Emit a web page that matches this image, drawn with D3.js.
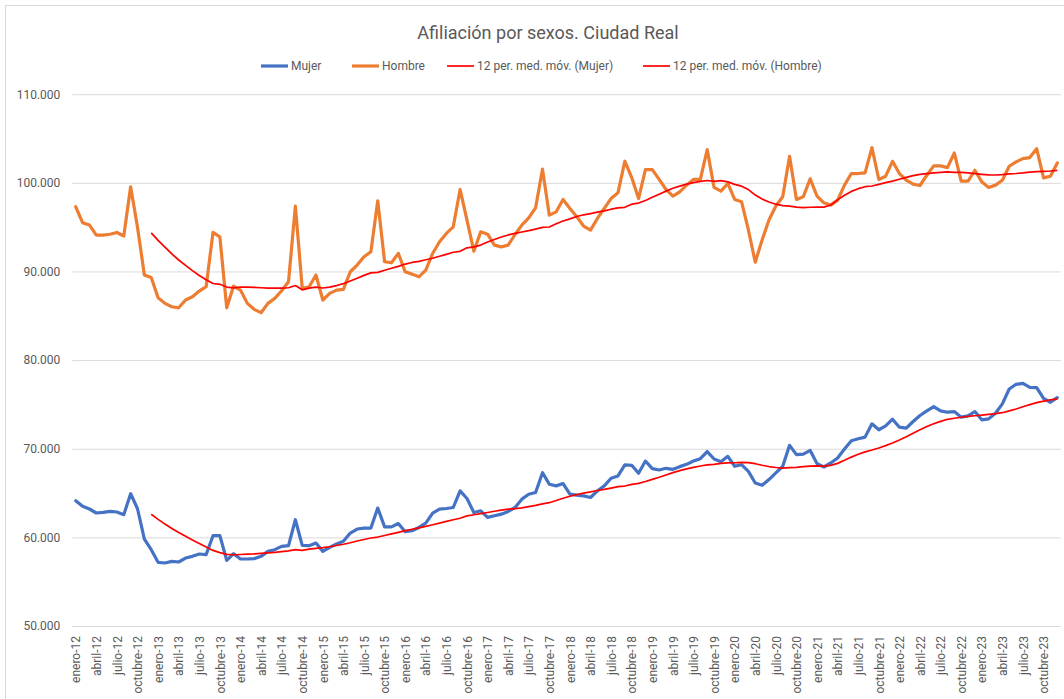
<!DOCTYPE html>
<html>
<head>
<meta charset="utf-8">
<script src="https://cdn.jsdelivr.net/npm/d3@7"></script>
<style>
  body { margin: 0; background: #fff; }
  text { font-family: Roboto, "Noto Sans", sans-serif; fill: #595959; }
</style>
</head>
<body>
<svg id="chart" width="1064" height="699"></svg>
<script>
// month names and years used for the category axis
var meses = ["enero", "febrero", "marzo", "abril", "mayo", "junio", "julio",
  "agosto", "septiembre", "octubre", "noviembre", "diciembre"];
var anios = ["12", "13", "14", "15", "16", "17", "18", "19", "20", "21", "22", "23"];

// afiliados, one value per month (enero-12 .. diciembre-23)
var mujer = [
  64140, 63500, 63200, 62750, 62820, 62930, 62860, 62560, 64930, 63230, 59810, 58610,
  57180, 57110, 57290, 57220, 57670, 57860, 58120, 58050, 60190, 60190, 57410, 58160,
  57560, 57560, 57600, 57860, 58420, 58610, 58990, 59060, 61990, 59100, 59060, 59360,
  58420, 58870, 59250, 59550, 60490, 60940, 61050, 61050, 63310, 61180, 61180, 61560,
  60640, 60750, 61120, 61610, 62740, 63180, 63260, 63370, 65240, 64380, 62810, 63000,
  62250, 62440, 62620, 62920, 63370, 64310, 64870, 65060, 67300, 65990, 65810, 66070,
  64870, 64760, 64680, 64500, 65240, 65810, 66670, 66930, 68170, 68130, 67230, 68610,
  67750, 67600, 67790, 67680, 67980, 68240, 68610, 68880, 69680, 68840, 68540, 69140,
  68020, 68200, 67450, 66140, 65880, 66520, 67270, 68020, 70380, 69330, 69400, 69810,
  68320, 67940, 68390, 68950, 69960, 70900, 71120, 71310, 72810, 72140, 72580, 73330,
  72430, 72320, 73070, 73750, 74270, 74760, 74270, 74120, 74190, 73560, 73710, 74190,
  73260, 73370, 74010, 75060, 76740, 77270, 77380, 76930, 76890, 75690, 75240, 75770
];

var hombre = [
  97300, 95500, 95230, 94100, 94100, 94200, 94400, 94000, 99550, 95000, 89600, 89330,
  87030, 86400, 86020, 85900, 86780, 87150, 87790, 88280, 94400, 93900, 85900, 88350,
  87900, 86400, 85730, 85350, 86400, 86960, 87820, 88840, 97370, 88100, 88280, 89600,
  86780, 87530, 87900, 87980, 89970, 90720, 91660, 92220, 97970, 91100, 90980, 92040,
  89960, 89700, 89400, 90150, 92030, 93350, 94290, 95040, 99250, 95790, 92290, 94470,
  94210, 92970, 92780, 92970, 94170, 95230, 96050, 97180, 101540, 96350, 96730, 98120,
  97110, 96170, 95110, 94660, 95980, 97110, 98230, 98870, 102440, 100600, 98230, 101500,
  101500, 100380, 99250, 98500, 98990, 99740, 100380, 100380, 103750, 99480, 99060, 99930,
  98130, 97870, 94680, 91050, 93560, 95810, 97380, 98430, 103000, 98130, 98430, 100450,
  98500, 97750, 97490, 98050, 99740, 101050, 101050, 101120, 103970, 100380, 100750, 102430,
  101050, 100300, 99850, 99700, 100860, 101910, 101910, 101720, 103370, 100190, 100190, 101420,
  100110, 99480, 99740, 100300, 101870, 102360, 102730, 102850, 103860, 100560, 100750, 102250
];

var yTicks = [50000, 60000, 70000, 80000, 90000, 100000, 110000];

var series = [
  { name: "Mujer", values: mujer, color: "#4472C4" },
  { name: "Hombre", values: hombre, color: "#ED7D31" }
];

// category labels "enero-12", "febrero-12", ...
var months = [];
anios.forEach(function (a) {
  meses.forEach(function (m) { months.push(m + "-" + a); });
});

// 12 period trailing moving average, like the excel trendline
function movingAvg(values, n) {
  return values.map(function (v, i) {
    return i < n - 1 ? null : d3.mean(values.slice(i - n + 1, i + 1));
  });
}

var svg = d3.select("#chart");

// plot area (window.top is reserved, so no "top" here)
var plotLeft = 72.3, plotRight = 1060.7, plotTop = 94.2, plotBottom = 626;

var x = d3.scalePoint()
  .domain(months)
  .range([plotLeft, plotRight])
  .padding(0.5);

var y = d3.scaleLinear()
  .domain([50000, 110000])
  .range([plotBottom, plotTop]);

var es = d3.formatLocale({ decimal: ",", thousands: ".", grouping: [3], currency: ["", " €"] });
var fmt = es.format(",.0f");

// chart frame
svg.append("rect")
  .attr("x", 5.5).attr("y", 5.5)
  .attr("width", 1070).attr("height", 710)
  .attr("fill", "#fff")
  .attr("stroke", "#d9d9d9");

// title
svg.append("text")
  .attr("x", 548).attr("y", 39)
  .attr("text-anchor", "middle")
  .style("font-size", "18px")
  .text("Afiliación por sexos. Ciudad Real");

// gridlines
svg.append("g")
  .attr("transform", "translate(" + plotLeft + ",0)")
  .call(d3.axisLeft(y).tickValues(yTicks).tickSize(-(plotRight - plotLeft)).tickFormat(""))
  .call(function (g) {
    g.select(".domain").remove();
    g.selectAll("line").attr("stroke", "#d9d9d9");
  });

// y labels
svg.append("g")
  .attr("transform", "translate(" + plotLeft + ",0)")
  .call(d3.axisLeft(y).tickValues(yTicks).tickSize(0).tickPadding(12).tickFormat(fmt))
  .call(function (g) {
    g.select(".domain").remove();
    g.selectAll("text")
      .attr("fill", "#595959")
      .style("font-size", "12px")
      .style("font-family", "Roboto, sans-serif");
  });

// x labels, every third month, rotated
svg.append("g")
  .attr("transform", "translate(0," + plotBottom + ")")
  .call(d3.axisBottom(x)
    .tickValues(months.filter(function (d, i) { return i % 3 === 0; }))
    .tickSize(0))
  .call(function (g) {
    g.select(".domain").remove();
    g.selectAll("text")
      .attr("transform", "rotate(-90)")
      .attr("text-anchor", "end")
      .attr("x", -10).attr("y", 0)
      .attr("dy", "0.35em")
      .attr("fill", "#595959")
      .style("font-size", "12px")
      .style("font-family", "Roboto, sans-serif");
  });

var line = d3.line()
  .defined(function (d) { return d != null; })
  .x(function (d, i) { return x(months[i]); })
  .y(function (d) { return y(d); });

// data lines
svg.selectAll(".serie")
  .data(series)
  .enter().append("path")
  .attr("class", "serie")
  .attr("d", function (d) { return line(d.values); })
  .attr("fill", "none")
  .attr("stroke", function (d) { return d.color; })
  .attr("stroke-width", 3.2)
  .attr("stroke-linejoin", "round")
  .attr("stroke-linecap", "round");

// moving averages on top
svg.selectAll(".media")
  .data(series)
  .enter().append("path")
  .attr("class", "media")
  .attr("d", function (d) { return line(movingAvg(d.values, 12)); })
  .attr("fill", "none")
  .attr("stroke", "#FF0000")
  .attr("stroke-width", 1.7)
  .attr("stroke-linejoin", "round");

// legend
var legendItems = [
  { label: "Mujer", color: "#4472C4", x: 261, w: 3.2 },
  { label: "Hombre", color: "#ED7D31", x: 352, w: 3.2 },
  { label: "12 per. med. móv. (Mujer)", color: "#FF0000", x: 447, w: 1.7 },
  { label: "12 per. med. móv. (Hombre)", color: "#FF0000", x: 643, w: 1.7 }
];

var legend = svg.append("g").attr("transform", "translate(0,66)");
var item = legend.selectAll("g")
  .data(legendItems)
  .enter().append("g")
  .attr("transform", function (d) { return "translate(" + d.x + ",0)"; });

item.append("line")
  .attr("x1", 0).attr("x2", 27)
  .attr("stroke", function (d) { return d.color; })
  .attr("stroke-width", function (d) { return d.w; });

item.append("text")
  .attr("x", 30).attr("dy", "0.35em")
  .style("font-size", "12px")
  .text(function (d) { return d.label; });
</script>
</body>
</html>
